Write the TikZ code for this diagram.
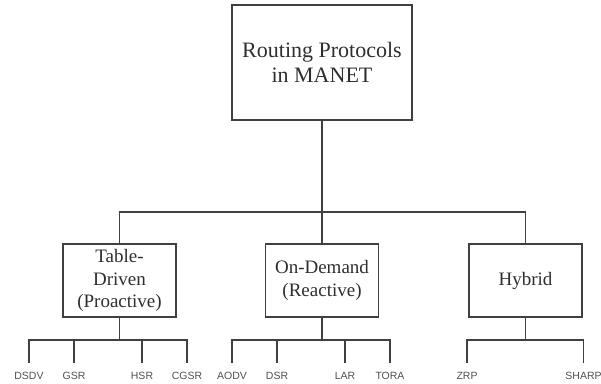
\documentclass[tikz,border=0pt]{standalone}
\usepackage{fontspec}
\setmainfont{Liberation Serif}
\newfontfamily\labelfont{Liberation Sans}
\definecolor{linec}{HTML}{404040}
\definecolor{textc}{HTML}{2E2E2E}
\definecolor{leafc}{HTML}{505050}
\begin{document}
\begin{tikzpicture}[x=1pt,y=-1pt,
  boxstyle/.style={draw=linec,line width=1.8pt,rectangle,inner sep=0pt,text=textc,align=center},
  topbox/.style={boxstyle,minimum width=180pt,minimum height=115pt,font=\fontsize{22}{25}\selectfont},
  midbox/.style={boxstyle,minimum width=113pt,minimum height=73pt,font=\fontsize{19}{22.5}\selectfont},
  leaf/.style={anchor=north,inner xsep=0pt,inner ysep=9pt,text=leafc,font=\labelfont\fontsize{10.5}{12}\selectfont},
  conn/.style={draw=linec,line width=1.3pt}]
\useasboundingbox (0,0) rectangle (601,383);
\node[topbox] (root) at (322,62.5) {Routing Protocols\\in MANET};
\node[midbox] (tab) at (119.5,280.5) {Table-\\Driven\\(Proactive)};
\node[midbox] (ond) at (322,280.5) {On-Demand\\(Reactive)};
\node[midbox] (hyb) at (525.5,280.5) {Hybrid};
% top bus
\coordinate (b0) at (322,212);
\coordinate (bl) at (119.5,212);
\coordinate (br) at (525.5,212);
\draw[conn] (root.south) -- (b0);
\draw[conn] (tab.north) -- (bl) -- (br) -- (hyb.north);
\draw[conn] (b0) -- (ond.north);
% leaves
\node[leaf] (dsdv) at (29,363) {DSDV};
\node[leaf] (gsr) at (74,363) {GSR};
\node[leaf] (hsr) at (142,363) {HSR};
\node[leaf] (cgsr) at (187,363) {CGSR};
\node[leaf] (aodv) at (232,363) {AODV};
\node[leaf] (dsr) at (277,363) {DSR};
\node[leaf] (lar) at (345,363) {LAR};
\node[leaf] (tora) at (390,363) {TORA};
\node[leaf] (zrp) at (467,363) {ZRP};
\node[leaf] (sharp) at (583.5,363) {SHARP};
% lower buses
\coordinate (t0) at (119.5,340);
\coordinate (o0) at (322,340);
\coordinate (h0) at (525.5,340);
\draw[conn] (tab.south) -- (t0);
\draw[conn] (ond.south) -- (o0);
\draw[conn] (hyb.south) -- (h0);
\draw[conn] (dsdv.north) -- (dsdv.north |- t0) -- (cgsr.north |- t0) -- (cgsr.north);
\draw[conn] (gsr.north) -- (gsr.north |- t0);
\draw[conn] (hsr.north) -- (hsr.north |- t0);
\draw[conn] (aodv.north) -- (aodv.north |- o0) -- (tora.north |- o0) -- (tora.north);
\draw[conn] (dsr.north) -- (dsr.north |- o0);
\draw[conn] (lar.north) -- (lar.north |- o0);
\draw[conn] (zrp.north) -- (zrp.north |- h0) -- (sharp.north |- h0) -- (sharp.north);
\end{tikzpicture}
\end{document}
